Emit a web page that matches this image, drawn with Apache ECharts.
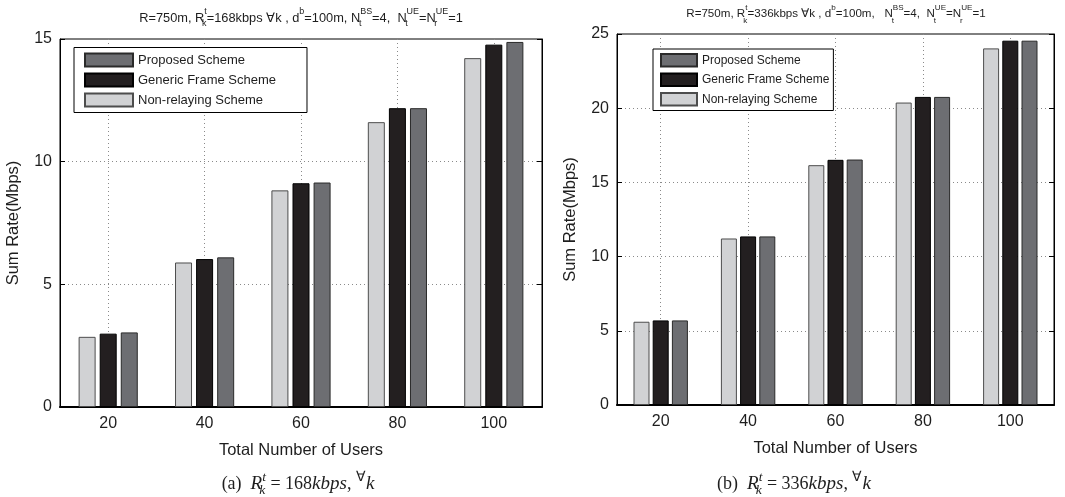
<!DOCTYPE html>
<html>
<head>
<meta charset="utf-8">
<script src="https://cdn.jsdelivr.net/npm/echarts@6/dist/echarts.min.js"></script>
<style>
  html, body { margin: 0; background: #fff; }
  #main { width: 1065px; height: 497px; }
</style>
</head>
<body>
<div id="main"></div>
<script>
// total number of users (x categories)
const users = ['20', '40', '60', '80', '100'];
// half steps, only used to put the dotted grid lines on the category centres
const halfSteps = ['10', '20', '30', '40', '50', '60', '70', '80', '90', '100', '110'];

// (a) R = 168 kbps
const nonRelay168 = [2.86, 5.89, 8.83, 11.61, 14.22];
const generic168 = [2.99, 6.03, 9.12, 12.18, 14.77];
const proposed168 = [3.04, 6.10, 9.15, 12.18, 14.88];

// (b) R = 336 kbps
const nonRelay336 = [5.61, 11.22, 16.16, 20.38, 24.03];
const generic336 = [5.70, 11.36, 16.52, 20.76, 24.55];
const proposed336 = [5.70, 11.36, 16.54, 20.76, 24.55];

const legendNames = ['Proposed Scheme', 'Generic Frame Scheme', 'Non-relaying Scheme'];

const FONT = 'Liberation Sans, Arial, sans-serif';
const SERIF = 'Liberation Serif, Times New Roman, serif';
const INK = '#1e1e1e';

const panels = [
  { grid: { left: 60, top: 39, width: 482, height: 368 }, yMax: 15,
    barWidth: 17, barGap: '24%',
    data: [nonRelay168, generic168, proposed168] },
  { grid: { left: 617, top: 34, width: 437, height: 371 }, yMax: 25,
    barWidth: 16, barGap: '20%',
    data: [nonRelay336, generic336, proposed336] }
];

const barStyles = [
  { name: 'Non-relaying Scheme', color: '#d1d2d4', borderColor: '#4d4d4d' },
  { name: 'Generic Frame Scheme', color: '#231f20', borderColor: '#000' },
  { name: 'Proposed Scheme', color: '#6d6e72', borderColor: '#2a2a2a' }
];

const grids = [], xAxes = [], yAxes = [], series = [];
const tickStyle = { inside: true, length: 5, lineStyle: { color: '#000' } };
const dotted = { color: '#8a8a8a', type: [1, 3], width: 1 };

panels.forEach(function (p, i) {
  grids.push(Object.assign({ show: true, borderColor: '#000', borderWidth: 1,
    backgroundColor: '#fff' }, p.grid));

  const mainX = xAxes.length;
  xAxes.push({
    type: 'category', gridIndex: i, data: users, boundaryGap: true,
    axisLine: { lineStyle: { color: '#000', width: 2 } },
    axisTick: Object.assign({ alignWithLabel: true }, tickStyle),
    axisLabel: { fontFamily: FONT, fontSize: 16, color: INK, margin: 9 },
    splitLine: { show: false },
    name: 'Total Number of Users', nameLocation: 'middle', nameGap: 35,
    nameTextStyle: { fontFamily: FONT, fontSize: 16.5, color: INK }
  });
  // top edge with ticks
  xAxes.push({
    type: 'category', gridIndex: i, data: users, position: 'top',
    axisLine: { show: true, lineStyle: { color: '#000', width: 1 } },
    axisTick: Object.assign({ alignWithLabel: true }, tickStyle),
    axisLabel: { show: false }, splitLine: { show: false }
  });
  // vertical dotted grid lines at the category centres
  xAxes.push({
    type: 'category', gridIndex: i, data: halfSteps, boundaryGap: false,
    axisLine: { show: false }, axisTick: { show: false }, axisLabel: { show: false },
    splitLine: { show: true, interval: function (idx) { return idx % 2 === 1; },
      lineStyle: dotted }
  });

  const mainY = yAxes.length;
  yAxes.push({
    type: 'value', gridIndex: i, min: 0, max: p.yMax, interval: 5,
    axisLine: { show: true, lineStyle: { color: '#000', width: 1 } },
    axisTick: Object.assign({ show: true }, tickStyle),
    axisLabel: { fontFamily: FONT, fontSize: 16, color: INK, margin: 8 },
    splitLine: { show: true, showMinLine: false, showMaxLine: false, lineStyle: dotted },
    name: 'Sum Rate(Mbps)', nameLocation: 'middle', nameGap: 38,
    nameTextStyle: { fontFamily: FONT, fontSize: 16.5, color: INK }
  });
  // right edge with ticks
  yAxes.push({
    type: 'value', gridIndex: i, min: 0, max: p.yMax, interval: 5, position: 'right',
    axisLine: { show: true, lineStyle: { color: '#000', width: 1 } },
    axisTick: Object.assign({ show: true }, tickStyle),
    axisLabel: { show: false }, splitLine: { show: false }
  });

  barStyles.forEach(function (s, k) {
    series.push({
      type: 'bar', name: s.name, xAxisIndex: mainX, yAxisIndex: mainY,
      data: p.data[k], barWidth: p.barWidth, barGap: p.barGap,
      itemStyle: { color: s.color, borderColor: s.borderColor, borderWidth: 1 },
      emphasis: { disabled: true }, animation: false
    });
  });
});

const legendBase = {
  orient: 'vertical', icon: 'rect', data: legendNames,
  borderColor: '#000', borderWidth: 1, backgroundColor: '#fff',
  selectedMode: false
};
const legends = [
  Object.assign({}, legendBase, {
    left: 74, top: 47.5, padding: [5, 31, 5, 10], itemWidth: 48, itemHeight: 13, itemGap: 5,
    textStyle: { fontFamily: FONT, fontSize: 13, color: INK }
  }),
  Object.assign({}, legendBase, {
    left: 653, top: 49, padding: [4, 4, 4, 7], itemWidth: 36, itemHeight: 12.5, itemGap: 5,
    textStyle: { fontFamily: FONT, fontSize: 12, color: INK }
  })
];

function subsup(size) {
  return {
    s: { fontFamily: FONT, fontSize: size, lineHeight: 9, verticalAlign: 'top', color: INK },
    s0: { fontFamily: FONT, fontSize: size, lineHeight: 9, verticalAlign: 'bottom', width: 0, color: INK }
  };
}
const serifRich = {
  it: { fontFamily: SERIF, fontStyle: 'italic', fontSize: 19, color: INK },
  s: { fontFamily: SERIF, fontStyle: 'italic', fontSize: 13.5, lineHeight: 12, verticalAlign: 'top', color: INK },
  s0: { fontFamily: SERIF, fontStyle: 'italic', fontSize: 13.5, lineHeight: 12, verticalAlign: 'bottom', width: 0, color: INK },
  su: { fontFamily: SERIF, fontSize: 13.5, lineHeight: 12, verticalAlign: 'top', color: INK }
};

function titleText(x, y, size, text) {
  return { type: 'text', x: x, y: y, silent: true,
    style: { text: text, align: 'center', verticalAlign: 'middle', fontFamily: FONT,
      fontSize: size, lineHeight: 21, fill: INK, rich: subsup(size * 0.7) } };
}
function captionText(x, y, text) {
  return { type: 'text', x: x, y: y, silent: true,
    style: { text: text, align: 'center', verticalAlign: 'middle', fontFamily: SERIF,
      fontSize: 18, lineHeight: 27, fill: INK, rich: serifRich } };
}

const graphics = [
  titleText(301, 18, 12.8, 'R=750m, R{s0|k}{s|t}=168kbps \u2200k , d{s|b}=100m, N{s0|t}{s|BS}=4,  N{s0|t}{s|UE}=N{s0|r}{s|UE}=1'),
  titleText(836, 14, 11.6, 'R=750m, R{s0|k}{s|t}=336kbps \u2200k , d{s|b}=100m,   N{s0|t}{s|BS}=4,  N{s0|t}{s|UE}=N{s0|r}{s|UE}=1'),
  captionText(298, 484, '(a)  {it|R}{s0|k}{s|t} = 168{it|kbps}, {su|\u2200}{it|k}'),
  captionText(794, 484, '(b)  {it|R}{s0|k}{s|t} = 336{it|kbps}, {su|\u2200}{it|k}')
];

const chart = echarts.init(document.getElementById('main'));
chart.setOption({
  backgroundColor: '#fff',
  animation: false,
  grid: grids,
  xAxis: xAxes,
  yAxis: yAxes,
  legend: legends,
  series: series,
  graphic: graphics
});
</script>
</body>
</html>
